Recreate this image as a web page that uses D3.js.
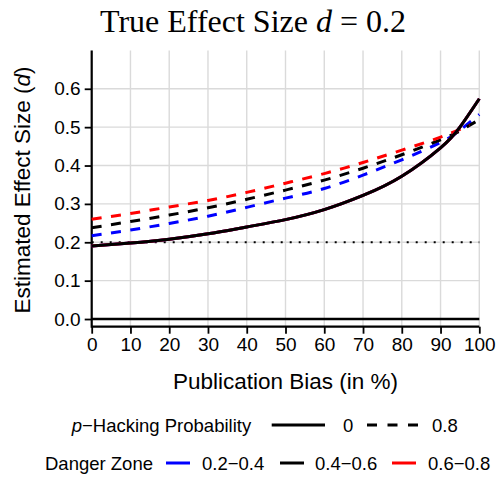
<!DOCTYPE html>
<html>
<head>
<meta charset="utf-8">
<script src="https://cdn.jsdelivr.net/npm/d3@7"></script>
<style>
  body { margin: 0; background: #fff; }
  svg { display: block; }
  text { font-family: "Liberation Sans", Arial, Helvetica, sans-serif; fill: #000; }
</style>
</head>
<body>
<div id="chart"></div>
<script>
// publication bias (%) grid
const bias = [0, 10, 20, 30, 40, 50, 60, 70, 80, 90, 95, 100];
const biasRed = [0, 10, 20, 30, 40, 50, 60, 70, 80, 90, 97.5];

// p-hacking probability 0 (solid) - all three zones nearly identical
const solidBlue  = [0.190, 0.198, 0.208, 0.222, 0.240, 0.259, 0.285, 0.322, 0.372, 0.446, 0.500, 0.574];
const solidRed   = [0.190, 0.198, 0.208, 0.222, 0.240, 0.259, 0.285, 0.322, 0.372, 0.446, 0.500, 0.574];
const solidBlack = [0.190, 0.198, 0.208, 0.222, 0.240, 0.259, 0.285, 0.322, 0.372, 0.446, 0.500, 0.574];

// p-hacking probability 0.8 (dashed)
const dashBlue  = [0.217, 0.232, 0.249, 0.268, 0.291, 0.315, 0.340, 0.375, 0.415, 0.460, 0.492, 0.533];
const dashBlack = [0.238, 0.254, 0.271, 0.290, 0.312, 0.336, 0.362, 0.393, 0.428, 0.467, 0.490, 0.520];
const dashRed   = [0.260, 0.275, 0.292, 0.309, 0.330, 0.354, 0.379, 0.408, 0.440, 0.474, 0.505];

const trueEffect = 0.2;
const xTicks = [0, 10, 20, 30, 40, 50, 60, 70, 80, 90, 100];
const yTicks = [0.0, 0.1, 0.2, 0.3, 0.4, 0.5, 0.6];

const W = 496, H = 479;
const x = d3.scaleLinear().domain([0, 100]).range([91.7, 479.3]);
const y = d3.scaleLinear().domain([-0.02, 0.7]).range([326.7, 50.4]);

const svg = d3.select("#chart").append("svg")
    .attr("width", W)
    .attr("height", H);

// title
const title = svg.append("text")
    .attr("x", 253)
    .attr("y", 32)
    .attr("text-anchor", "middle")
    .style("font-family", "'Liberation Serif', 'Times New Roman', serif")
    .style("font-size", "32px");
title.append("tspan").text("True Effect Size ");
title.append("tspan").style("font-style", "italic").text("d");
title.append("tspan").text(" = 0.2");

// grid
svg.append("g")
  .selectAll("line")
  .data(xTicks)
  .enter().append("line")
    .attr("x1", d => x(d)).attr("x2", d => x(d))
    .attr("y1", y.range()[1]).attr("y2", y.range()[0])
    .attr("stroke", "#dadada")
    .attr("stroke-width", 1.4);
svg.append("g")
  .selectAll("line")
  .data(yTicks)
  .enter().append("line")
    .attr("x1", x(0)).attr("x2", x(100))
    .attr("y1", d => y(d)).attr("y2", d => y(d))
    .attr("stroke", "#dadada")
    .attr("stroke-width", 1.4);

// axes
const xAxis = svg.append("g")
    .attr("transform", "translate(0," + y.range()[0] + ")")
    .call(d3.axisBottom(x).tickValues(xTicks).tickSize(7).tickPadding(4).tickFormat(d3.format("d")));
const yAxis = svg.append("g")
    .attr("transform", "translate(" + x(0) + ",0)")
    .call(d3.axisLeft(y).tickValues(yTicks).tickSize(7).tickPadding(4).tickFormat(d3.format(".1f")));
[xAxis, yAxis].forEach(a => {
  a.select(".domain").remove();
  a.selectAll(".tick line").attr("stroke", "#000").attr("stroke-width", 1.8);
  a.selectAll(".tick text")
      .style("font-family", "'Liberation Sans', Arial, sans-serif")
      .style("font-size", "19px")
      .attr("fill", "#000");
});
svg.append("line")
    .attr("x1", x(0)).attr("x2", x(100))
    .attr("y1", y.range()[0]).attr("y2", y.range()[0])
    .attr("stroke", "#000").attr("stroke-width", 2.2);
svg.append("line")
    .attr("x1", x(0)).attr("x2", x(0))
    .attr("y1", y.range()[1]).attr("y2", y.range()[0] + 1)
    .attr("stroke", "#000").attr("stroke-width", 2.2);

// axis titles
svg.append("text")
    .attr("x", x(50))
    .attr("y", 389)
    .attr("text-anchor", "middle")
    .style("font-size", "22.5px")
    .text("Publication Bias (in %)");
const yl = svg.append("text")
    .attr("transform", "translate(30,190) rotate(-90)")
    .attr("text-anchor", "middle")
    .style("font-size", "22.5px");
yl.append("tspan").text("Estimated Effect Size (");
yl.append("tspan").style("font-style", "italic").text("d");
yl.append("tspan").text(")");

// zero line and true effect
svg.append("line")
    .attr("x1", x(0)).attr("x2", x(100))
    .attr("y1", y(0)).attr("y2", y(0))
    .attr("stroke", "#000").attr("stroke-width", 2.6);
svg.append("line")
    .attr("x1", x(0)).attr("x2", x(100))
    .attr("y1", y(trueEffect)).attr("y2", y(trueEffect))
    .attr("stroke", "#000").attr("stroke-width", 2)
    .attr("stroke-dasharray", "2,7");

const line = d3.line()
    .x(d => x(d[0]))
    .y(d => y(d[1]))
    .curve(d3.curveNatural);

const series = [
  { xs: bias, vals: dashBlue, color: "#0000ff", dash: "10,9.5" },
  { xs: bias, vals: dashBlack, color: "#000000", dash: "10,9.5" },
  { xs: biasRed, vals: dashRed, color: "#ff0000", dash: "10,9.5" },
  { xs: bias, vals: solidBlue, color: "#0000ff", dash: null },
  { xs: bias, vals: solidRed, color: "#ff0000", dash: null },
  { xs: bias, vals: solidBlack, color: "#000000", dash: null }
];

svg.append("g")
  .selectAll("path")
  .data(series)
  .enter().append("path")
    .attr("d", s => line(s.xs.map((v, i) => [v, s.vals[i]])))
    .attr("fill", "none")
    .attr("stroke", s => s.color)
    .attr("stroke-width", 3)
    .attr("stroke-dasharray", s => s.dash);

// legend
const lg = svg.append("g").style("font-size", "18.5px");
const l1 = lg.append("text").attr("x", 71.7).attr("y", 431.5);
l1.append("tspan").style("font-style", "italic").text("p");
l1.append("tspan").text("\u2212Hacking Probability");
lg.append("line").attr("x1", 271.7).attr("x2", 325).attr("y1", 425).attr("y2", 425)
    .attr("stroke", "#000").attr("stroke-width", 3);
lg.append("text").attr("x", 343).attr("y", 431.5).text("0");
lg.append("line").attr("x1", 367).attr("x2", 418).attr("y1", 425).attr("y2", 425)
    .attr("stroke", "#000").attr("stroke-width", 3).attr("stroke-dasharray", "10,10.5");
lg.append("text").attr("x", 432).attr("y", 431.5).text("0.8");

const zones = [
  { label: "0.2\u22120.4", color: "#0000ff", lx: 166, tx: 202 },
  { label: "0.4\u22120.6", color: "#000000", lx: 280, tx: 315 },
  { label: "0.6\u22120.8", color: "#ff0000", lx: 392, tx: 428 }
];
lg.append("text").attr("x", 45).attr("y", 469.5).text("Danger Zone");
zones.forEach(z => {
  lg.append("line").attr("x1", z.lx).attr("x2", z.lx + 24).attr("y1", 463).attr("y2", 463)
      .attr("stroke", z.color).attr("stroke-width", 3);
  lg.append("text").attr("x", z.tx).attr("y", 469.5).text(z.label);
});
</script>
</body>
</html>
